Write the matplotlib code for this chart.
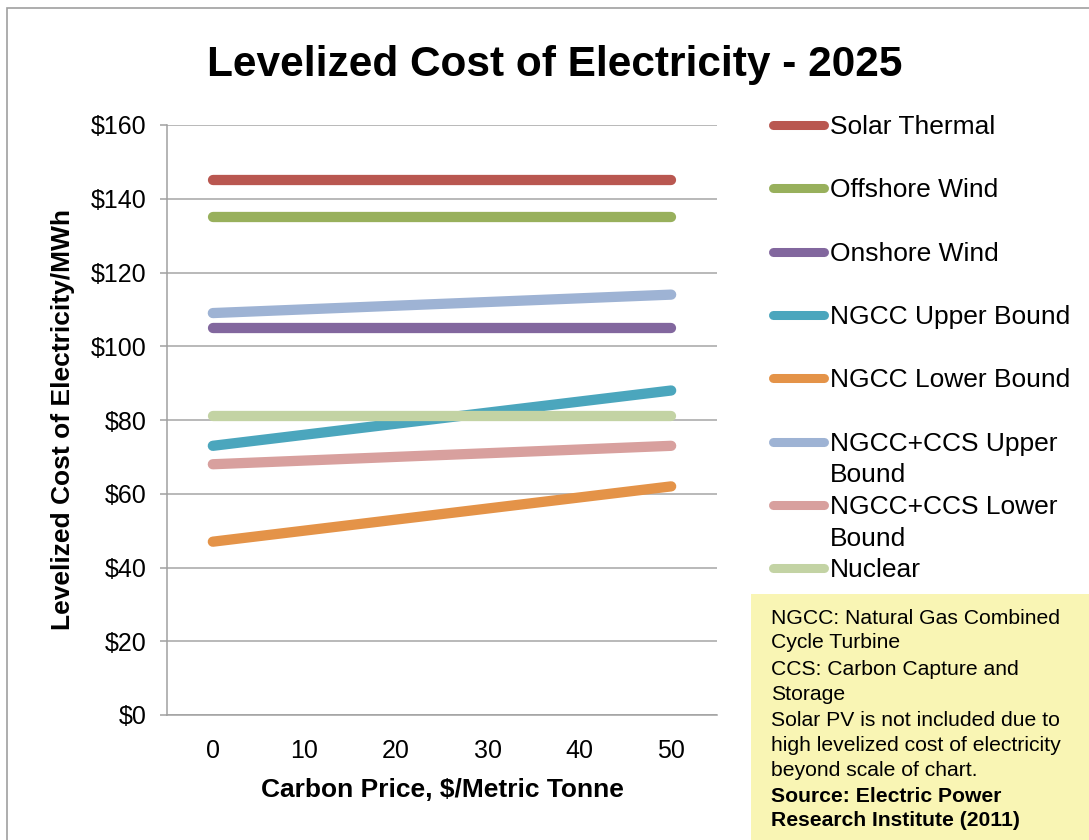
#! /usr/bin/env python3

import matplotlib
matplotlib.use("Agg")
import matplotlib.pyplot as plt
from matplotlib.lines import Line2D
from matplotlib.patches import Rectangle

plt.rcParams['font.family'] = ['Liberation Sans', 'DejaVu Sans']

# carbon price categories ($/metric tonne)
carbon_price = ['0', '10', '20', '30', '40', '50']

# levelized cost of electricity, $/MWh
solar_thermal = [145, 145, 145, 145, 145, 145]
offshore_wind = [135, 135, 135, 135, 135, 135]
onshore_wind = [105, 105, 105, 105, 105, 105]
ngcc_upper = [73, 76, 79, 82, 85, 88]
ngcc_lower = [47, 50, 53, 56, 59, 62]
ngcc_ccs_upper = [109, 110, 111, 112, 113, 114]
ngcc_ccs_lower = [68, 69, 70, 71, 72, 73]
nuclear = [81, 81, 81, 81, 81, 81]

series_names = ['Solar Thermal', 'Offshore Wind', 'Onshore Wind',
                'NGCC Upper Bound', 'NGCC Lower Bound',
                'NGCC+CCS Upper\nBound', 'NGCC+CCS Lower\nBound', 'Nuclear']
series_values = [solar_thermal, offshore_wind, onshore_wind, ngcc_upper,
                 ngcc_lower, ngcc_ccs_upper, ngcc_ccs_lower, nuclear]
series_colors = ['#B95750', '#98B05C', '#82679E', '#4BA6BD',
                 '#E49348', '#9EB3D4', '#D8A09E', '#C3D3A4']

y_ticks = [0, 20, 40, 60, 80, 100, 120, 140, 160]

notes = [
    ["NGCC: Natural Gas Combined", "Cycle Turbine"],
    ["CCS: Carbon Capture and", "Storage"],
    ["Solar PV is not included due to", "high levelized cost of electricity",
     "beyond scale of chart."],
]
source = ["Source: Electric Power", "Research Institute (2011)"]

W, H = 1089, 840
fig = plt.figure(figsize=(W / 100, H / 100), dpi=100)

# chart frame
fig.patches.append(Rectangle((7 / W, -0.1), 1.2, 1.1 - 8 / H, transform=fig.transFigure,
                             fill=False, edgecolor='#A0A0A0', linewidth=1.2))

ax = fig.add_axes([167 / W, 1 - 715 / H, 550 / W, 590 / H])
x = range(len(carbon_price))
for name, vals, col in zip(series_names, series_values, series_colors):
    ax.plot(x, vals, color=col, linewidth=7.4, solid_capstyle='round',
            solid_joinstyle='round', label=name)

ax.set_xlim(-0.5, len(carbon_price) - 0.5)
ax.set_ylim(0, 160)
ax.set_xticks(list(x))
ax.set_xticklabels(carbon_price)
ax.set_yticks(y_ticks)
ax.set_yticklabels(['$%d' % v for v in y_ticks])
ax.tick_params(axis='x', length=0, pad=17, labelsize=18)
ax.tick_params(axis='y', length=5, width=1.1, color='#A0A0A0', pad=10, labelsize=18)
ax.yaxis.grid(True, color='#A6A6A6', linewidth=1.1)
ax.set_axisbelow(True)
for s in ['top', 'right']:
    ax.spines[s].set_visible(False)
for s in ['left', 'bottom']:
    ax.spines[s].set_color('#A0A0A0')
    ax.spines[s].set_linewidth(1.1)

ax.set_xlabel('Carbon Price, $/Metric Tonne', fontsize=19, fontweight='bold', va='center')
ax.xaxis.set_label_coords(0.5, (715 - 790) / 590)
ax.set_ylabel('Levelized Cost of Electricity/MWh', fontsize=19, fontweight='bold', va='center')
ax.yaxis.set_label_coords((63 - 167) / 550, 0.5)

fig.text(555 / W, 1 - 65 / H, 'Levelized Cost of Electricity - 2025',
         fontsize=30.5, fontweight='bold', ha='center', va='center')

# legend, one entry every 63 px starting at the top of the plot;
# wrapped labels hang below their line sample
leg_top = 125
leg_step = 63.3
for i, (name, col) in enumerate(zip(series_names, series_colors)):
    yc = 1 - (leg_top + i * leg_step) / H
    fig.add_artist(Line2D([773 / W, 824 / W], [yc, yc], transform=fig.transFigure,
                          color=col, linewidth=6.5, solid_capstyle='round'))
    fig.text(830 / W, yc + 10 / H, name, fontsize=19, ha='left', va='top',
             linespacing=1.42)

# note box
fig.patches.append(Rectangle((751 / W, -0.1), 0.5, 0.1 + 1 - 594 / H,
                             transform=fig.transFigure, facecolor='#F9F5B4',
                             edgecolor='none'))
y = 618
for block in notes:
    for line in block:
        fig.text(771 / W, 1 - y / H, line, fontsize=15.2, ha='left', va='center')
        y += 24.5
    y += 2.5
for line in source:
    fig.text(771 / W, 1 - y / H, line, fontsize=15.2, fontweight='bold',
             ha='left', va='center')
    y += 24

fig.savefig('out.png', dpi=100)
